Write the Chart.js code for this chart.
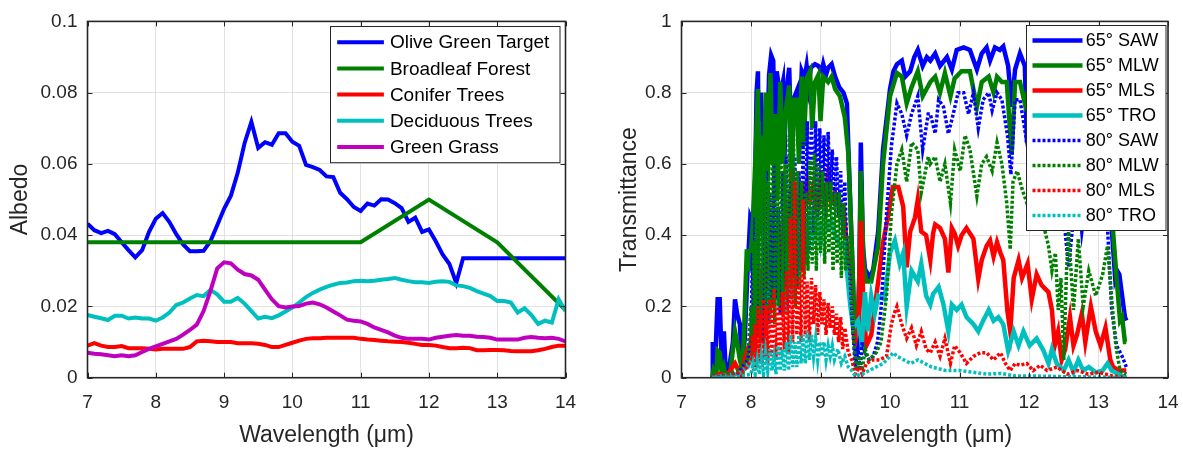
<!DOCTYPE html>
<html>
<head>
<meta charset="utf-8">
<script src="https://cdn.jsdelivr.net/npm/chart.js@4.4.1/dist/chart.umd.min.js"></script>
<style>
  html, body { margin: 0; padding: 0; background: #fff; }
  #wrap { position: relative; width: 1183px; height: 449px; overflow: hidden; }
  canvas { position: absolute; top: 0; }
  #albedoChart { left: 0; }
  #transChart { left: 592px; }
</style>
</head>
<body>
<div id="wrap">
  <canvas id="albedoChart" width="592" height="449"></canvas>
  <canvas id="transChart" width="591" height="449"></canvas>
</div>
<script>
// ---- left panel: albedo spectra, sampled every 0.1 um ----
const albedoWave = [
  7.0, 7.1, 7.2, 7.3, 7.4, 7.5, 7.6, 7.7, 7.8, 7.9,
  8.0, 8.1, 8.2, 8.3, 8.4, 8.5, 8.6, 8.7, 8.8, 8.9,
  9.0, 9.1, 9.2, 9.3, 9.4, 9.5, 9.6, 9.7, 9.8, 9.9,
  10.0, 10.1, 10.2, 10.3, 10.4, 10.5, 10.6, 10.7, 10.8, 10.9,
  11.0, 11.1, 11.2, 11.3, 11.4, 11.5, 11.6, 11.7, 11.8, 11.9,
  12.0, 12.1, 12.2, 12.3, 12.4, 12.5, 12.6, 12.7, 12.8, 12.9,
  13.0, 13.1, 13.2, 13.3, 13.4, 13.5, 13.6, 13.7, 13.8, 13.9,
  14.0
];
const oliveTarget = [
  0.0432, 0.0414, 0.0406, 0.0412, 0.0403, 0.0380, 0.0358, 0.0338, 0.0358, 0.0409,
  0.0446, 0.0462, 0.0437, 0.0403, 0.0374, 0.0355, 0.0355, 0.0356, 0.0383, 0.0428,
  0.0474, 0.0511, 0.0575, 0.0658, 0.0718, 0.0645, 0.0661, 0.0654, 0.0686, 0.0686,
  0.0662, 0.0651, 0.0597, 0.0591, 0.0583, 0.0565, 0.0563, 0.0519, 0.0501, 0.0479,
  0.0468, 0.0489, 0.0483, 0.0501, 0.0500, 0.0490, 0.0476, 0.0437, 0.0449, 0.0409,
  0.0416, 0.0383, 0.0346, 0.0319, 0.0266, 0.0335, 0.0335, 0.0335, 0.0335, 0.0335,
  0.0335, 0.0335, 0.0335, 0.0335, 0.0335, 0.0335, 0.0335, 0.0335, 0.0335, 0.0335,
  0.0335
];
const broadleafWave = [7, 11, 12, 13, 14];
const broadleaf = [0.038, 0.038, 0.050, 0.038, 0.019];
const conifer = [
  0.0090, 0.0097, 0.0090, 0.0086, 0.0086, 0.0089, 0.0083, 0.0083, 0.0083, 0.0081,
  0.0079, 0.0081, 0.0081, 0.0081, 0.0081, 0.0086, 0.0102, 0.0104, 0.0102, 0.0100,
  0.0100, 0.0100, 0.0097, 0.0097, 0.0097, 0.0095, 0.0092, 0.0086, 0.0086, 0.0092,
  0.0098, 0.0104, 0.0109, 0.0111, 0.0111, 0.0112, 0.0112, 0.0112, 0.0112, 0.0112,
  0.0109, 0.0107, 0.0106, 0.0104, 0.0102, 0.0101, 0.0100, 0.0098, 0.0095, 0.0092,
  0.0092, 0.0090, 0.0086, 0.0083, 0.0083, 0.0084, 0.0083, 0.0077, 0.0077, 0.0078,
  0.0078, 0.0077, 0.0075, 0.0074, 0.0074, 0.0074, 0.0077, 0.0081, 0.0086, 0.0090,
  0.0090
];
const deciduous = [
  0.0176, 0.0171, 0.0167, 0.0162, 0.0174, 0.0174, 0.0166, 0.0169, 0.0166, 0.0166,
  0.0160, 0.0169, 0.0183, 0.0204, 0.0211, 0.0222, 0.0232, 0.0229, 0.0246, 0.0234,
  0.0213, 0.0213, 0.0224, 0.0208, 0.0187, 0.0166, 0.0171, 0.0167, 0.0175, 0.0186,
  0.0197, 0.0211, 0.0226, 0.0238, 0.0247, 0.0255, 0.0261, 0.0266, 0.0267, 0.0271,
  0.0272, 0.0271, 0.0272, 0.0275, 0.0277, 0.0280, 0.0275, 0.0271, 0.0268, 0.0268,
  0.0266, 0.0269, 0.0271, 0.0269, 0.0259, 0.0257, 0.0252, 0.0243, 0.0236, 0.0229,
  0.0215, 0.0215, 0.0211, 0.0183, 0.0195, 0.0176, 0.0151, 0.0160, 0.0155, 0.0220,
  0.0187
];
const greenGrass = [
  0.0070, 0.0067, 0.0066, 0.0063, 0.0060, 0.0063, 0.0060, 0.0063, 0.0072, 0.0081,
  0.0088, 0.0095, 0.0102, 0.0109, 0.0121, 0.0134, 0.0149, 0.0187, 0.0243, 0.0307,
  0.0324, 0.0321, 0.0303, 0.0291, 0.0287, 0.0275, 0.0247, 0.0220, 0.0201, 0.0197,
  0.0200, 0.0201, 0.0208, 0.0211, 0.0206, 0.0197, 0.0186, 0.0175, 0.0163, 0.0160,
  0.0158, 0.0151, 0.0141, 0.0134, 0.0127, 0.0118, 0.0112, 0.0109, 0.0109, 0.0109,
  0.0107, 0.0112, 0.0115, 0.0118, 0.0120, 0.0118, 0.0118, 0.0115, 0.0114, 0.0112,
  0.0107, 0.0107, 0.0107, 0.0107, 0.0112, 0.0114, 0.0112, 0.0111, 0.0112, 0.0109,
  0.0102
];
const albedoTicks = ['0', '0.02', '0.04', '0.06', '0.08', '0.1'];

// ---- right panel: transmittance, [wavelength, value] ----
const saw65 = [
  [7.44,0],[7.45,0.10],[7.48,0.02],[7.52,0.22],[7.55,0.22],[7.58,0.03],[7.61,0.13],[7.64,0.0],[7.68,0.02],
  [7.74,0.10],[7.77,0.22],[7.80,0.18],[7.84,0.15],[7.87,0.03],[7.91,0.11],[7.95,0.30],[7.99,0.45],[8.03,0.43],
  [8.06,0.55],[8.08,0.80],[8.10,0.86],[8.12,0.40],[8.14,0.80],[8.17,0.50],[8.20,0.73],[8.23,0.62],[8.26,0.85],
  [8.29,0.905],[8.32,0.89],[8.35,0.55],[8.37,0.86],[8.42,0.79],[8.46,0.83],[8.48,0.60],[8.50,0.79],[8.55,0.87],
  [8.58,0.65],[8.61,0.78],[8.67,0.81],[8.70,0.70],[8.73,0.86],[8.77,0.84],[8.80,0.875],[8.83,0.82],[8.86,0.87],
  [8.92,0.88],[8.97,0.875],[9.02,0.86],[9.04,0.88],[9.08,0.85],[9.11,0.87],[9.16,0.88],[9.21,0.845],[9.27,0.815],
  [9.33,0.80],[9.38,0.77],[9.40,0.65],[9.45,0.37],[9.48,0.19],[9.51,0.06],[9.54,0.14],[9.56,0.30],[9.58,0.66],
  [9.61,0.37],[9.64,0.305],[9.71,0.28],[9.76,0.305],[9.83,0.41],[9.90,0.64],[10.0,0.81],[10.05,0.86],[10.10,0.88],
  [10.17,0.89],[10.22,0.845],[10.29,0.86],[10.35,0.90],[10.40,0.92],[10.47,0.875],[10.53,0.90],[10.58,0.89],
  [10.65,0.91],[10.72,0.875],[10.82,0.90],[10.89,0.865],[10.96,0.92],[11.06,0.927],[11.15,0.92],[11.25,0.865],
  [11.32,0.91],[11.39,0.927],[11.44,0.89],[11.51,0.927],[11.58,0.92],[11.63,0.93],[11.70,0.875],[11.75,0.76],
  [11.80,0.865],[11.87,0.91],[11.94,0.875],[11.97,0.66],[12.02,0.88],[12.1,0.90],[12.2,0.86],[12.3,0.88],
  [12.4,0.85],[12.5,0.70],[12.6,0.85],[12.7,0.82],[12.8,0.86],[12.9,0.84],[13.0,0.85],[13.1,0.78],[13.15,0.60],
  [13.19,0.42],[13.24,0.28],[13.27,0.30],[13.30,0.29],[13.34,0.23],[13.38,0.17],[13.40,0.16]
];
const mlw65 = [
  [7.44,0],[7.46,0.02],[7.50,0.0],[7.52,0.076],[7.55,0.07],[7.58,0.01],[7.61,0.03],[7.64,0.0],[7.70,0.01],
  [7.77,0.13],[7.80,0.10],[7.84,0.05],[7.88,0.02],[7.94,0.36],[7.98,0.30],[8.03,0.45],[8.06,0.60],[8.10,0.81],
  [8.12,0.45],[8.14,0.66],[8.17,0.40],[8.21,0.80],[8.24,0.55],[8.28,0.855],[8.31,0.60],[8.35,0.74],[8.38,0.50],
  [8.42,0.83],[8.46,0.60],[8.50,0.75],[8.55,0.82],[8.58,0.55],[8.62,0.78],[8.66,0.78],[8.69,0.60],[8.73,0.845],
  [8.76,0.65],[8.80,0.84],[8.85,0.86],[8.88,0.70],[8.92,0.83],[8.97,0.85],[9.00,0.72],[9.04,0.845],[9.11,0.83],
  [9.16,0.845],[9.21,0.81],[9.28,0.79],[9.35,0.73],[9.40,0.63],[9.45,0.37],[9.49,0.14],[9.53,0.09],[9.56,0.30],
  [9.58,0.58],[9.62,0.32],[9.66,0.27],[9.73,0.27],[9.83,0.37],[9.90,0.60],[10.0,0.79],[10.10,0.855],[10.17,0.845],
  [10.24,0.77],[10.31,0.815],[10.40,0.86],[10.47,0.79],[10.58,0.83],[10.65,0.845],[10.72,0.80],[10.79,0.855],
  [10.87,0.79],[10.93,0.84],[11.03,0.86],[11.15,0.86],[11.25,0.76],[11.32,0.83],[11.42,0.845],[11.49,0.80],
  [11.54,0.845],[11.61,0.83],[11.68,0.83],[11.75,0.625],[11.80,0.83],[11.87,0.83],[11.94,0.77],[12.0,0.82],
  [12.1,0.84],[12.2,0.80],[12.3,0.83],[12.4,0.78],[12.5,0.60],[12.6,0.80],[12.7,0.77],[12.8,0.82],[12.9,0.80],
  [13.0,0.80],[13.1,0.70],[13.15,0.55],[13.21,0.41],[13.26,0.28],[13.31,0.16],[13.34,0.17],[13.38,0.10],[13.40,0.10]
];
const mls65 = [
  [7.44,0],[7.55,0.01],[7.65,0.005],[7.77,0.04],[7.85,0.01],[7.95,0.08],[8.00,0.10],[8.05,0.18],[8.10,0.30],
  [8.13,0.15],[8.17,0.32],[8.21,0.20],[8.25,0.38],[8.29,0.25],[8.33,0.42],[8.37,0.35],[8.40,0.44],[8.44,0.30],
  [8.48,0.40],[8.52,0.35],[8.56,0.50],[8.60,0.58],[8.63,0.40],[8.67,0.52],[8.70,0.45],[8.73,0.55],[8.77,0.48],
  [8.81,0.55],[8.85,0.50],[8.90,0.54],[8.95,0.46],[9.00,0.55],[9.05,0.50],[9.11,0.57],[9.15,0.49],[9.21,0.52],
  [9.27,0.49],[9.33,0.48],[9.38,0.37],[9.45,0.19],[9.49,0.10],[9.54,0.09],[9.58,0.44],[9.62,0.19],[9.66,0.09],
  [9.73,0.12],[9.83,0.27],[9.90,0.38],[9.97,0.45],[10.04,0.535],[10.12,0.535],[10.19,0.48],[10.24,0.31],
  [10.29,0.41],[10.36,0.45],[10.40,0.50],[10.45,0.41],[10.52,0.40],[10.58,0.33],[10.62,0.405],[10.65,0.43],
  [10.72,0.42],[10.79,0.39],[10.84,0.295],[10.89,0.42],[10.93,0.405],[10.98,0.37],[11.03,0.40],[11.10,0.42],
  [11.20,0.39],[11.27,0.277],[11.32,0.33],[11.39,0.37],[11.44,0.385],[11.49,0.34],[11.54,0.38],[11.59,0.35],
  [11.63,0.33],[11.69,0.186],[11.73,0.13],[11.78,0.28],[11.85,0.33],[11.90,0.28],[11.98,0.32],[12.04,0.22],
  [12.11,0.29],[12.18,0.26],[12.23,0.25],[12.28,0.24],[12.33,0.19],[12.37,0.09],[12.42,0.13],[12.47,0.05],
  [12.52,0.08],[12.59,0.17],[12.64,0.09],[12.69,0.12],[12.76,0.18],[12.81,0.10],[12.89,0.20],[12.96,0.13],
  [13.03,0.09],[13.10,0.14],[13.17,0.05],[13.21,0.03],[13.29,0.02],[13.38,0.02],[13.40,0.02]
];
const tro65 = [
  [7.44,0],[7.6,0.005],[7.8,0.01],[7.95,0.03],[8.05,0.08],[8.12,0.15],[8.18,0.10],[8.22,0.25],[8.26,0.15],
  [8.30,0.37],[8.34,0.20],[8.38,0.35],[8.42,0.22],[8.46,0.30],[8.50,0.18],[8.54,0.33],[8.58,0.22],[8.62,0.36],
  [8.66,0.25],[8.70,0.40],[8.74,0.30],[8.78,0.46],[8.82,0.35],[8.86,0.48],[8.90,0.40],[8.95,0.45],[9.00,0.38],
  [9.05,0.45],[9.10,0.42],[9.16,0.44],[9.21,0.40],[9.28,0.37],[9.35,0.38],[9.38,0.30],[9.43,0.20],[9.47,0.14],
  [9.54,0.16],[9.59,0.08],[9.64,0.24],[9.68,0.13],[9.73,0.23],[9.78,0.18],[9.83,0.23],[9.92,0.22],[10.0,0.35],
  [10.07,0.385],[10.14,0.32],[10.19,0.35],[10.24,0.20],[10.31,0.30],[10.40,0.27],[10.45,0.32],[10.52,0.23],
  [10.58,0.205],[10.62,0.235],[10.70,0.255],[10.77,0.205],[10.84,0.13],[10.89,0.205],[10.96,0.19],[11.03,0.205],
  [11.10,0.17],[11.20,0.15],[11.27,0.13],[11.34,0.16],[11.42,0.19],[11.49,0.16],[11.56,0.17],[11.63,0.15],
  [11.70,0.076],[11.78,0.13],[11.85,0.09],[11.92,0.13],[12.01,0.09],[12.11,0.11],[12.21,0.076],[12.28,0.04],
  [12.33,0.08],[12.40,0.04],[12.50,0.02],[12.57,0.05],[12.64,0.016],[12.71,0.05],[12.78,0.02],[12.86,0.03],
  [12.96,0.015],[13.06,0.02],[13.13,0.04],[13.19,0.02],[13.29,0.01],[13.40,0.0]
];
const saw80 = [
  [7.44,0],[7.6,0.005],[7.8,0.01],[7.95,0.05],[8.00,0.10],[8.02,0.35],[8.04,0.08],[8.06,0.45],[8.08,0.12],
  [8.10,0.55],[8.12,0.15],[8.14,0.50],[8.16,0.10],[8.18,0.62],[8.20,0.18],[8.22,0.58],[8.24,0.15],[8.27,0.52],
  [8.30,0.20],[8.33,0.60],[8.36,0.22],[8.39,0.48],[8.42,0.18],[8.45,0.58],[8.48,0.25],[8.51,0.62],[8.54,0.20],
  [8.57,0.55],[8.60,0.28],[8.63,0.62],[8.66,0.25],[8.69,0.58],[8.72,0.30],[8.75,0.66],[8.78,0.32],[8.81,0.72],
  [8.84,0.35],[8.87,0.70],[8.90,0.40],[8.93,0.72],[8.96,0.45],[8.99,0.70],[9.02,0.48],[9.05,0.68],[9.08,0.45],
  [9.11,0.69],[9.14,0.50],[9.17,0.64],[9.20,0.48],[9.23,0.62],[9.26,0.45],[9.29,0.58],[9.32,0.40],[9.35,0.55],
  [9.38,0.35],[9.42,0.30],[9.46,0.15],[9.50,0.03],[9.54,0.08],[9.57,0.02],[9.60,0.10],[9.64,0.07],[9.70,0.05],
  [9.76,0.06],[9.82,0.10],[9.87,0.19],[9.95,0.46],[10.02,0.65],[10.10,0.77],[10.17,0.74],[10.24,0.68],[10.31,0.74],
  [10.40,0.79],[10.47,0.64],[10.55,0.74],[10.58,0.74],[10.65,0.685],[10.70,0.78],[10.77,0.76],[10.84,0.685],
  [10.91,0.74],[10.98,0.80],[11.06,0.80],[11.13,0.74],[11.20,0.80],[11.27,0.70],[11.34,0.78],[11.42,0.80],
  [11.47,0.75],[11.54,0.80],[11.61,0.78],[11.69,0.68],[11.74,0.57],[11.80,0.78],[11.87,0.78],[11.97,0.66],
  [12.05,0.72],[12.15,0.70],[12.25,0.65],[12.35,0.68],[12.45,0.55],[12.52,0.41],[12.57,0.31],[12.62,0.41],
  [12.70,0.55],[12.76,0.41],[12.85,0.55],[12.95,0.50],[13.01,0.42],[13.08,0.50],[13.13,0.42],[13.19,0.19],
  [13.26,0.09],[13.34,0.06],[13.40,0.03]
];
const mlw80 = [
  [7.44,0],[7.6,0.005],[7.8,0.02],[7.95,0.05],[8.00,0.20],[8.02,0.05],[8.04,0.38],[8.06,0.08],[8.08,0.60],
  [8.10,0.12],[8.12,0.72],[8.14,0.10],[8.16,0.68],[8.18,0.15],[8.20,0.70],[8.22,0.12],[8.25,0.55],[8.28,0.18],
  [8.31,0.69],[8.34,0.15],[8.37,0.62],[8.40,0.20],[8.43,0.73],[8.46,0.18],[8.49,0.60],[8.52,0.22],[8.55,0.68],
  [8.58,0.25],[8.61,0.72],[8.64,0.20],[8.67,0.58],[8.70,0.25],[8.73,0.55],[8.76,0.28],[8.79,0.52],[8.82,0.30],
  [8.85,0.61],[8.88,0.32],[8.91,0.63],[8.94,0.30],[8.97,0.60],[9.00,0.35],[9.03,0.58],[9.06,0.32],[9.09,0.55],
  [9.12,0.35],[9.15,0.55],[9.18,0.30],[9.21,0.52],[9.24,0.32],[9.27,0.52],[9.30,0.28],[9.33,0.49],[9.36,0.30],
  [9.40,0.40],[9.44,0.26],[9.48,0.10],[9.52,0.02],[9.56,0.06],[9.60,0.02],[9.64,0.08],[9.70,0.05],[9.80,0.07],
  [9.87,0.10],[9.95,0.23],[10.02,0.46],[10.10,0.60],[10.17,0.64],[10.24,0.55],[10.31,0.66],[10.40,0.64],
  [10.45,0.52],[10.55,0.62],[10.58,0.60],[10.65,0.62],[10.72,0.55],[10.79,0.60],[10.87,0.49],[10.93,0.64],
  [11.01,0.58],[11.08,0.68],[11.15,0.64],[11.25,0.51],[11.32,0.60],[11.39,0.62],[11.47,0.58],[11.54,0.66],
  [11.61,0.60],[11.68,0.49],[11.73,0.36],[11.77,0.55],[11.83,0.58],[11.90,0.53],[11.97,0.49],[12.05,0.55],
  [12.15,0.50],[12.22,0.42],[12.28,0.37],[12.33,0.30],[12.38,0.35],[12.42,0.19],[12.46,0.28],[12.50,0.05],
  [12.54,0.30],[12.57,0.41],[12.64,0.19],[12.71,0.39],[12.78,0.20],[12.86,0.30],[12.96,0.23],[13.06,0.29],
  [13.13,0.37],[13.19,0.22],[13.25,0.09],[13.31,0.02],[13.40,0.01]
];
const mls80 = [
  [7.44,0],[7.7,0.005],[7.9,0.02],[8.00,0.05],[8.02,0.12],[8.04,0.02],[8.06,0.15],[8.08,0.03],[8.10,0.20],
  [8.12,0.04],[8.14,0.18],[8.16,0.03],[8.18,0.22],[8.20,0.05],[8.22,0.20],[8.24,0.04],[8.27,0.22],[8.30,0.06],
  [8.33,0.25],[8.36,0.05],[8.39,0.20],[8.42,0.06],[8.45,0.24],[8.48,0.08],[8.51,0.30],[8.54,0.07],[8.57,0.45],
  [8.60,0.10],[8.63,0.55],[8.66,0.12],[8.69,0.28],[8.72,0.10],[8.75,0.50],[8.78,0.12],[8.81,0.27],[8.84,0.10],
  [8.87,0.28],[8.90,0.15],[8.93,0.26],[8.96,0.12],[8.99,0.24],[9.02,0.15],[9.05,0.22],[9.08,0.12],[9.11,0.21],
  [9.14,0.14],[9.17,0.20],[9.20,0.12],[9.23,0.18],[9.26,0.10],[9.29,0.17],[9.32,0.08],[9.35,0.14],[9.40,0.07],
  [9.45,0.05],[9.50,0.01],[9.56,0.03],[9.60,0.01],[9.66,0.04],[9.75,0.05],[9.85,0.05],[9.95,0.06],[10.02,0.15],
  [10.06,0.18],[10.10,0.20],[10.17,0.15],[10.24,0.11],[10.31,0.14],[10.38,0.09],[10.45,0.13],[10.52,0.08],
  [10.58,0.07],[10.65,0.10],[10.72,0.06],[10.79,0.11],[10.87,0.04],[10.93,0.09],[11.01,0.07],[11.10,0.04],
  [11.20,0.06],[11.30,0.07],[11.39,0.07],[11.49,0.05],[11.59,0.07],[11.66,0.04],[11.73,0.02],[11.80,0.04],
  [11.87,0.035],[11.97,0.04],[12.06,0.02],[12.16,0.035],[12.26,0.02],[12.4,0.03],[12.55,0.01],[12.7,0.02],
  [12.85,0.01],[13.0,0.015],[13.2,0.005],[13.4,0.0]
];
const tro80 = [
  [7.44,0],[7.8,0.002],[8.0,0.01],[8.03,0.04],[8.06,0.01],[8.09,0.05],[8.12,0.01],[8.15,0.06],[8.18,0.01],
  [8.21,0.07],[8.24,0.02],[8.27,0.08],[8.30,0.02],[8.33,0.06],[8.36,0.01],[8.39,0.09],[8.42,0.02],[8.45,0.08],
  [8.48,0.02],[8.51,0.10],[8.54,0.02],[8.57,0.12],[8.60,0.03],[8.63,0.10],[8.66,0.03],[8.69,0.12],[8.72,0.04],
  [8.75,0.12],[8.78,0.04],[8.81,0.13],[8.84,0.05],[8.87,0.12],[8.90,0.06],[8.93,0.11],[8.96,0.05],[8.99,0.10],
  [9.02,0.06],[9.05,0.10],[9.08,0.05],[9.11,0.09],[9.14,0.06],[9.17,0.09],[9.20,0.05],[9.25,0.08],[9.30,0.04],
  [9.35,0.06],[9.40,0.03],[9.45,0.02],[9.50,0.005],[9.60,0.01],[9.70,0.02],[9.80,0.03],[9.90,0.04],[10.0,0.06],
  [10.05,0.07],[10.1,0.06],[10.2,0.05],[10.3,0.04],[10.4,0.05],[10.5,0.04],[10.6,0.03],[10.7,0.025],[10.8,0.02],
  [11.0,0.02],[11.2,0.015],[11.4,0.01],[11.6,0.012],[11.8,0.005],[12.0,0.005],[12.5,0.003],[13.0,0.002],[13.4,0.0]
];
const transTicks = ['0', '0.2', '0.4', '0.6', '0.8', '1'];

const FONT = "'Liberation Sans', Arial, Helvetica, sans-serif";
const INK = '#262626';
const colors = { blue: '#0000ff', green: '#008000', red: '#ff0000', cyan: '#00bfbf', magenta: '#bf00bf' };

function toPoints(xs, ys) {
    return xs.map((x, i) => ({ x: x, y: ys[i] }));
}
function pairPoints(pairs) {
    return pairs.map(p => ({ x: p[0], y: p[1] }));
}

// box round the plot area plus inward tick marks on all four sides (matlab look)
const frameTicks = {
    id: 'frameTicks',
    afterDraw(chart) {
        const { ctx, chartArea: a, scales: { x, y } } = chart;
        ctx.save();
        ctx.strokeStyle = INK;
        ctx.lineWidth = 1;
        ctx.beginPath();
        x.ticks.forEach(t => {
            const px = Math.round(x.getPixelForValue(t.value)) + 0.5;
            ctx.moveTo(px, a.bottom); ctx.lineTo(px, a.bottom - 5);
            ctx.moveTo(px, a.top); ctx.lineTo(px, a.top + 5);
        });
        y.ticks.forEach(t => {
            const py = Math.round(y.getPixelForValue(t.value)) + 0.5;
            ctx.moveTo(a.left, py); ctx.lineTo(a.left + 5, py);
            ctx.moveTo(a.right, py); ctx.lineTo(a.right - 5, py);
        });
        ctx.stroke();
        ctx.lineWidth = 1.6;
        ctx.strokeRect(a.left, a.top, a.right - a.left, a.bottom - a.top);
        ctx.restore();
    }
};

// legend box drawn inside the plot, top right
const boxLegend = {
    id: 'boxLegend',
    afterDraw(chart, args, o) {
        const { ctx, chartArea: a } = chart;
        const sets = chart.data.datasets;
        ctx.save();
        ctx.font = o.font;
        const w = o.width;
        const h = o.padV * 2 + o.rowH * sets.length;
        const x0 = Math.round(a.right - o.right - w) + 0.5;
        const y0 = Math.round(a.top + o.top) + 0.5;
        ctx.fillStyle = '#fff';
        ctx.fillRect(x0, y0, w, h);
        ctx.strokeStyle = INK;
        ctx.lineWidth = 1;
        ctx.strokeRect(x0, y0, w, h);
        sets.forEach((d, i) => {
            const cy = y0 + o.padV + o.rowH * (i + 0.5);
            ctx.beginPath();
            ctx.strokeStyle = d.borderColor;
            ctx.lineWidth = d.borderWidth;
            ctx.setLineDash(d.borderDash || []);
            ctx.moveTo(x0 + o.padLeft, cy);
            ctx.lineTo(x0 + o.padLeft + o.sample, cy);
            ctx.stroke();
            ctx.setLineDash([]);
            ctx.fillStyle = '#000';
            ctx.textBaseline = 'middle';
            ctx.fillText(d.label, x0 + o.padLeft + o.sample + o.gap, cy + 1);
        });
        ctx.restore();
    }
};

function axisOptions(ticks, yMax, yStep, yWidth, yTitle, yTitlePad) {
    return {
        x: {
            type: 'linear', min: 7, max: 14,
            ticks: { stepSize: 1, color: INK, padding: 14, font: { family: FONT, size: 19 } },
            grid: { color: '#e1e1e1', drawTicks: false },
            border: { display: false },
            title: { display: true, text: 'Wavelength (μm)', color: INK, padding: { top: 0, bottom: 0 },
                     font: { family: FONT, size: 23 } },
            afterFit: s => { s.height = 71.3; s.paddingLeft = 0; s.paddingRight = 0; }
        },
        y: {
            type: 'linear', min: 0, max: yMax,
            ticks: { stepSize: yStep, color: INK, padding: 10, font: { family: FONT, size: 19 },
                     callback: (v, i) => ticks[i] },
            grid: { color: '#e1e1e1', drawTicks: false },
            border: { display: false },
            title: { display: true, text: yTitle, color: INK, padding: { top: yTitlePad, bottom: 0 },
                     font: { family: FONT, size: 23 } },
            afterFit: s => { s.width = yWidth; }
        }
    };
}

function lineSet(label, data, color, width, dash, order) {
    return {
        label: label, data: data, borderColor: color, borderWidth: width,
        borderDash: dash, pointRadius: 0, fill: false, tension: 0, order: order
    };
}

new Chart(document.getElementById('albedoChart').getContext('2d'), {
    type: 'line',
    data: {
        datasets: [
            lineSet('Olive Green Target', toPoints(albedoWave, oliveTarget), colors.blue, 4, [], 5),
            lineSet('Broadleaf Forest', toPoints(broadleafWave, broadleaf), colors.green, 4, [], 4),
            lineSet('Conifer Trees', toPoints(albedoWave, conifer), colors.red, 4, [], 3),
            lineSet('Deciduous Trees', toPoints(albedoWave, deciduous), colors.cyan, 4, [], 2),
            lineSet('Green Grass', toPoints(albedoWave, greenGrass), colors.magenta, 4, [], 1)
        ]
    },
    options: {
        responsive: false,
        animation: false,
        events: [],
        layout: { padding: { left: 0, top: 16.3, right: 26.5, bottom: 0 } },
        scales: axisOptions(albedoTicks, 0.1, 0.02, 87.5, 'Albedo', 7),
        plugins: {
            legend: { display: false },
            tooltip: { enabled: false },
            boxLegend: { font: '19px ' + FONT, width: 229.5, padLeft: 6.7, sample: 46.7, gap: 6,
                         padV: 2.6, rowH: 26.2, right: 6, top: 4.7 }
        }
    },
    plugins: [frameTicks, boxLegend]
});

new Chart(document.getElementById('transChart').getContext('2d'), {
    type: 'line',
    data: {
        datasets: [
            lineSet('65° SAW', pairPoints(saw65), colors.blue, 4.5, [], 8),
            lineSet('65° MLW', pairPoints(mlw65), colors.green, 4.5, [], 7),
            lineSet('65° MLS', pairPoints(mls65), colors.red, 4.5, [], 6),
            lineSet('65° TRO', pairPoints(tro65), colors.cyan, 4.5, [], 5),
            lineSet('80° SAW', pairPoints(saw80), colors.blue, 3.5, [3, 2], 4),
            lineSet('80° MLW', pairPoints(mlw80), colors.green, 3.5, [3, 2], 3),
            lineSet('80° MLS', pairPoints(mls80), colors.red, 3.5, [3, 2], 2),
            lineSet('80° TRO', pairPoints(tro80), colors.cyan, 3.5, [3, 2], 1)
        ]
    },
    options: {
        responsive: false,
        animation: false,
        events: [],
        layout: { padding: { left: 0, top: 13.3, right: 15, bottom: 0 } },
        scales: axisOptions(transTicks, 1, 0.2, 89.5, 'Transmittance', 24),
        plugins: {
            legend: { display: false },
            tooltip: { enabled: false },
            boxLegend: { font: '18px ' + FONT, width: 139.5, padLeft: 6, sample: 50, gap: 3.3,
                         padV: 2.5, rowH: 25, right: 3, top: 4 }
        }
    },
    plugins: [frameTicks, boxLegend]
});
</script>
</body>
</html>
